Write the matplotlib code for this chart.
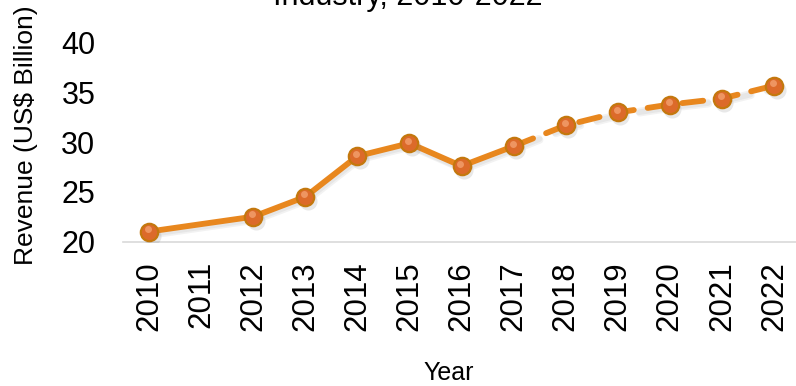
import matplotlib
matplotlib.use("Agg")
import matplotlib.pyplot as plt
import numpy as np

plt.rcParams['font.family'] = ['Liberation Sans', 'DejaVu Sans']

categories = ["2010", "2011", "2012", "2013", "2014", "2015", "2016",
              "2017", "2018", "2019", "2020", "2021", "2022"]
actual_years = ["2010", "2012", "2013", "2014", "2015", "2016", "2017"]
actual_values = [21.0, 22.5, 24.5, 28.6, 29.9, 27.6, 29.6]
forecast_years = ["2017", "2018", "2019", "2020", "2021", "2022"]
forecast_values = [29.6, 31.7, 33.0, 33.8, 34.4, 35.7]
yticks = [20, 25, 30, 35, 40]

W, H = 796, 386
fig = plt.figure(figsize=(W / 100, H / 100), dpi=100)
ax = fig.add_axes([123 / W, (H - 241.5) / H, (800 - 123) / W, (241.5 - 43) / H])

idx = {c: i for i, c in enumerate(categories)}
xa = [idx[c] for c in actual_years]
xf = [idx[c] for c in forecast_years]

line_color = '#E8871E'
lw = 4.2

# soft shadow
for dx, dy, a in [(0.04, -0.35, 0.10), (0.02, -0.2, 0.10)]:
    ax.plot(np.array(xa) + dx, np.array(actual_values) + dy, color='gray', lw=lw + 1,
            alpha=a, solid_capstyle='round', zorder=1)
    ax.plot(np.array(xf) + dx, np.array(forecast_values) + dy, color='gray', lw=lw + 1,
            alpha=a, dashes=(3.6, 2.4), dash_capstyle='round', zorder=1)

ax.plot(xa, actual_values, color=line_color, lw=lw, solid_capstyle='round', zorder=2)
ax.plot(xf, forecast_values, color=line_color, lw=lw, dashes=(3.6, 2.4),
        dash_capstyle='round', zorder=2)

all_x = xa + xf[1:]
all_y = actual_values + forecast_values[1:]
# marker shadows
ax.plot(np.array(all_x) + 0.05, np.array(all_y) - 0.4, 'o', ms=13, color='gray',
        alpha=0.18, mec='none', zorder=3)
ax.plot(all_x, all_y, 'o', ms=12.5, mfc='#DC6A2A', mec='#C4780E', mew=1.6, zorder=4,
        clip_on=False)
ax.plot(np.array(all_x) - 0.02, np.array(all_y) + 0.25, 'o', ms=5, mfc='#F3A070',
        mec='none', alpha=0.8, zorder=5, clip_on=False)

ax.set_xlim(-0.5, len(categories) - 0.5)
ax.set_ylim(20, 40)
ax.set_xticks(range(len(categories)))
ax.set_xticklabels(categories, rotation=90, fontsize=22.5)
ax.set_yticks(yticks)
ax.set_yticklabels([str(v) for v in yticks], fontsize=22)
ax.tick_params(axis='both', length=0)
ax.tick_params(axis='y', pad=20)
ax.tick_params(axis='x', pad=14)
for s in ['top', 'right', 'left']:
    ax.spines[s].set_visible(False)
ax.spines['bottom'].set_color('#D9D9D9')
ax.spines['bottom'].set_linewidth(1.2)

fig.text(26 / W, (H - 135) / H, "Revenue (US$ Billion)", rotation=90, ha='center',
         va='center', fontsize=19)
fig.text(449 / W, (H - 373) / H, "Year", ha='center', va='center', fontsize=18)
fig.text(408 / W, (H - 4.5) / H, "Industry, 2010-2022", ha='center', va='baseline',
         fontsize=22)

fig.savefig("out.png", dpi=100)
